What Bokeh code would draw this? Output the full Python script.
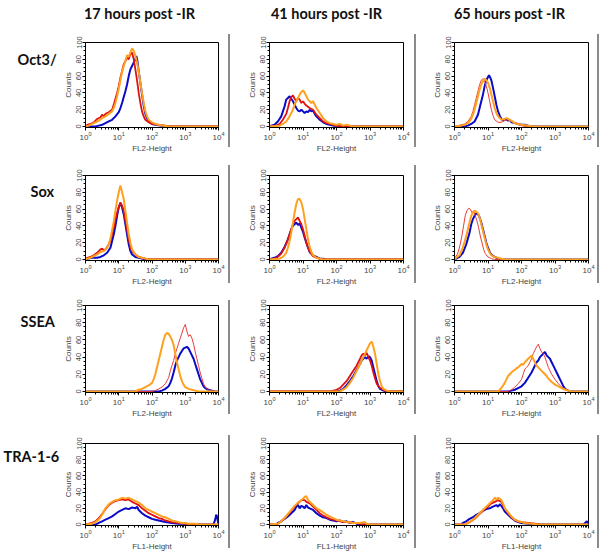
import numpy as np
from bokeh.plotting import figure
from bokeh.models import Range1d, Div, Spacer, SingleIntervalTicker, LogTicker
from bokeh.layouts import row, column
from bokeh.embed import file_html
from bokeh.resources import INLINE
from bokeh.core.properties import value

# ---------------- data (log10 of fluorescence, counts) ----------------
HEADERS = ["17 hours post -IR", "41 hours post -IR", "65 hours post -IR"]
ROW_LABELS = ["Oct3/", "Sox", "SSEA", "TRA-1-6"]
X_LABELS = ["FL2-Height", "FL2-Height", "FL2-Height", "FL1-Height"]

OCT3_17H_BLUE = [(0,0),(0.3,0),(0.4,1),(0.5,2),(0.6,4),(0.7,6),(0.8,8),(0.9,12),(1.0,17),(1.05,22),(1.1,28),(1.15,35),(1.2,42),(1.25,50),(1.3,60),(1.35,68),(1.4,72),(1.45,76),(1.5,80),(1.53,84),(1.56,78),(1.6,66),(1.65,52),(1.7,38),(1.75,25),(1.8,15),(1.85,10),(1.9,6),(2.0,3),(2.1,2),(2.3,1),(2.4,0),(4,0)]
OCT3_17H_RED = [(0,0),(0.05,2),(0.15,3),(0.25,5),(0.35,9),(0.45,11),(0.5,14),(0.55,12),(0.6,15),(0.7,17),(0.8,20),(0.85,26),(0.9,33),(0.95,40),(1.0,48),(1.05,58),(1.1,66),(1.15,74),(1.2,78),(1.25,82),(1.3,80),(1.35,86),(1.4,88),(1.45,80),(1.5,68),(1.55,55),(1.6,40),(1.65,28),(1.7,18),(1.75,12),(1.8,8),(1.9,5),(2.0,3),(2.2,2),(2.4,1),(2.5,0),(4,0)]
OCT3_17H_ORANGE = [(0,0),(0.1,1),(0.2,3),(0.3,5),(0.4,7),(0.5,10),(0.6,12),(0.7,15),(0.8,18),(0.85,22),(0.9,28),(0.95,36),(1.0,45),(1.05,55),(1.1,65),(1.15,72),(1.2,78),(1.25,85),(1.3,83),(1.35,88),(1.4,93),(1.45,90),(1.5,84),(1.55,76),(1.6,66),(1.65,52),(1.7,40),(1.75,28),(1.8,18),(1.85,12),(1.9,8),(2.0,5),(2.1,3),(2.2,2),(2.35,1),(2.5,0),(4,0)]

OCT3_41H_BLUE = [(0,0),(0.05,1),(0.15,2),(0.25,6),(0.35,12),(0.45,24),(0.5,32),(0.55,34),(0.6,36),(0.65,33),(0.7,30),(0.75,26),(0.8,22),(0.85,19),(0.9,18),(0.95,20),(1.0,18),(1.05,16),(1.1,18),(1.15,17),(1.2,20),(1.25,18),(1.3,19),(1.35,15),(1.4,12),(1.5,8),(1.6,5),(1.7,3),(1.8,2),(1.9,1),(2.0,1),(2.1,0),(4,0)]
OCT3_41H_RED = [(0,0),(0.2,1),(0.3,3),(0.4,8),(0.5,15),(0.55,22),(0.6,30),(0.65,35),(0.7,37),(0.75,33),(0.8,30),(0.85,34),(0.9,32),(0.95,28),(1.0,30),(1.05,27),(1.1,25),(1.2,22),(1.3,20),(1.4,14),(1.5,10),(1.6,6),(1.7,4),(1.8,3),(1.9,2),(2.0,1),(2.1,0),(4,0)]
OCT3_41H_ORANGE = [(0,0),(0.3,1),(0.4,3),(0.5,6),(0.6,12),(0.7,20),(0.75,26),(0.8,30),(0.85,34),(0.9,38),(0.95,41),(1.0,43),(1.05,40),(1.1,36),(1.15,32),(1.2,30),(1.25,28),(1.3,30),(1.35,26),(1.4,22),(1.5,16),(1.6,10),(1.7,6),(1.8,4),(1.9,3),(2.0,2),(2.1,3),(2.2,1),(2.3,2),(2.4,1),(2.5,0),(4,0)]

OCT3_65H_BLUE = [(0,0),(0.3,0),(0.4,1),(0.5,3),(0.6,6),(0.7,14),(0.75,22),(0.8,30),(0.85,38),(0.9,48),(0.95,55),(1.0,59),(1.03,61),(1.07,58),(1.1,55),(1.15,46),(1.2,36),(1.25,26),(1.3,18),(1.35,13),(1.4,9),(1.45,7),(1.5,9),(1.55,8),(1.6,7),(1.65,8),(1.7,5),(1.8,4),(1.9,3),(2.0,2),(2.1,2),(2.2,1),(2.3,0),(4,0)]
OCT3_65H_RED = [(0,0),(0.1,1),(0.2,2),(0.3,3),(0.4,6),(0.5,12),(0.55,18),(0.6,26),(0.65,34),(0.7,42),(0.75,50),(0.8,55),(0.85,57),(0.9,54),(0.95,48),(1.0,40),(1.05,30),(1.1,20),(1.15,13),(1.2,8),(1.3,5),(1.4,5),(1.5,7),(1.6,8),(1.7,6),(1.8,4),(1.9,2),(2.0,1),(2.1,0),(4,0)]
OCT3_65H_ORANGE = [(0,0),(0.2,1),(0.3,2),(0.4,4),(0.5,9),(0.55,14),(0.6,20),(0.65,28),(0.7,36),(0.75,44),(0.8,50),(0.85,54),(0.9,57),(0.95,55),(1.0,52),(1.05,46),(1.1,38),(1.15,30),(1.2,22),(1.25,16),(1.3,12),(1.4,8),(1.5,9),(1.55,10),(1.6,9),(1.7,7),(1.8,4),(1.9,3),(2.0,2),(2.2,1),(2.3,0),(4,0)]

SOX_17H_BLUE = [(0,0),(0.05,1),(0.2,2),(0.35,2),(0.45,3),(0.55,5),(0.65,8),(0.75,14),(0.8,22),(0.85,30),(0.9,40),(0.95,52),(1.0,62),(1.05,67),(1.1,62),(1.15,54),(1.2,42),(1.25,30),(1.3,18),(1.35,10),(1.4,6),(1.5,3),(1.6,2),(1.7,1),(1.8,0),(4,0)]
SOX_17H_RED = [(0,0),(0.05,2),(0.15,3),(0.25,5),(0.35,8),(0.45,12),(0.5,13),(0.55,11),(0.6,12),(0.65,15),(0.7,18),(0.75,22),(0.8,30),(0.85,38),(0.9,48),(0.95,56),(1.0,62),(1.05,68),(1.1,64),(1.15,58),(1.2,46),(1.25,36),(1.3,24),(1.35,15),(1.4,10),(1.5,6),(1.6,3),(1.7,2),(1.8,1),(1.9,0),(4,0)]
SOX_17H_ORANGE = [(0,0),(0.05,1),(0.15,2),(0.25,4),(0.35,6),(0.45,9),(0.55,10),(0.65,14),(0.7,18),(0.75,25),(0.8,35),(0.85,45),(0.9,58),(0.95,70),(1.0,80),(1.05,88),(1.1,80),(1.15,72),(1.2,58),(1.25,44),(1.3,30),(1.35,20),(1.4,12),(1.5,6),(1.6,3),(1.7,2),(1.8,1),(1.9,0),(4,0)]

SOX_41H_BLUE = [(0,0),(0.05,1),(0.15,2),(0.25,4),(0.35,8),(0.45,15),(0.55,24),(0.6,30),(0.65,36),(0.7,40),(0.75,42),(0.8,44),(0.85,41),(0.9,43),(0.95,38),(1.0,33),(1.05,26),(1.1,20),(1.15,14),(1.2,9),(1.3,5),(1.4,3),(1.5,1),(1.6,1),(1.7,0),(4,0)]
SOX_41H_RED = [(0,0),(0.15,1),(0.25,3),(0.35,7),(0.45,14),(0.55,24),(0.6,30),(0.65,36),(0.7,42),(0.75,46),(0.8,48),(0.85,50),(0.9,46),(0.95,42),(1.0,36),(1.05,28),(1.1,20),(1.15,14),(1.2,9),(1.3,4),(1.4,2),(1.5,1),(1.6,0),(4,0)]
SOX_41H_ORANGE = [(0,0),(0.3,1),(0.4,3),(0.5,8),(0.55,14),(0.6,22),(0.65,32),(0.7,44),(0.75,56),(0.8,66),(0.85,72),(0.9,72),(0.95,68),(1.0,60),(1.05,48),(1.1,36),(1.15,24),(1.2,15),(1.25,9),(1.3,5),(1.4,2),(1.5,1),(1.6,0),(4,0)]

SOX_65H_BLUE = [(0,0),(0.05,1),(0.15,3),(0.25,8),(0.35,18),(0.45,32),(0.5,42),(0.55,48),(0.6,52),(0.65,55),(0.7,54),(0.75,50),(0.8,44),(0.85,36),(0.9,28),(0.95,20),(1.0,14),(1.05,9),(1.1,6),(1.2,3),(1.3,1),(1.4,0),(4,0)]
SOX_65H_RED = [(0,0),(0.03,3),(0.08,6),(0.12,10),(0.17,18),(0.22,28),(0.27,40),(0.32,52),(0.37,58),(0.42,61),(0.47,60),(0.52,56),(0.57,58),(0.62,52),(0.67,46),(0.72,38),(0.77,28),(0.82,20),(0.87,12),(0.92,7),(1.0,3),(1.1,1),(1.2,0),(4,0)]
SOX_65H_ORANGE = [(0,0),(0.05,2),(0.15,5),(0.25,14),(0.35,28),(0.45,44),(0.5,52),(0.55,56),(0.6,58),(0.65,57),(0.7,55),(0.75,50),(0.8,42),(0.85,34),(0.9,26),(0.95,18),(1.0,12),(1.05,8),(1.1,5),(1.2,3),(1.3,2),(1.4,1),(1.5,0),(4,0)]

SSEA_17H_BLUE = [(0,0),(2.2,0),(2.3,1),(2.4,3),(2.5,6),(2.55,10),(2.6,15),(2.65,22),(2.7,30),(2.75,36),(2.8,40),(2.85,44),(2.9,47),(2.95,50),(3.0,51),(3.05,52),(3.1,50),(3.15,46),(3.2,42),(3.25,38),(3.3,32),(3.35,26),(3.4,20),(3.45,14),(3.5,10),(3.55,6),(3.6,4),(3.7,2),(3.8,1),(3.9,0),(4,0)]
SSEA_17H_RED = [(0,0),(2.0,0),(2.1,1),(2.2,3),(2.3,5),(2.4,9),(2.5,16),(2.55,24),(2.6,30),(2.65,36),(2.7,44),(2.75,50),(2.8,56),(2.85,62),(2.9,68),(2.95,74),(3.0,78),(3.05,70),(3.1,64),(3.15,66),(3.2,62),(3.25,55),(3.3,46),(3.35,38),(3.4,30),(3.45,22),(3.5,15),(3.55,9),(3.6,5),(3.7,2),(3.8,0),(4,0)]
SSEA_17H_ORANGE = [(0,0),(1.5,0),(1.6,2),(1.7,3),(1.8,5),(1.9,7),(2.0,10),(2.05,14),(2.1,20),(2.15,28),(2.2,36),(2.25,44),(2.3,52),(2.35,60),(2.4,66),(2.45,68),(2.5,67),(2.55,64),(2.6,60),(2.65,54),(2.7,44),(2.75,34),(2.8,26),(2.85,18),(2.9,12),(2.95,8),(3.0,5),(3.1,3),(3.2,2),(3.3,1),(3.4,0),(4,0)]

SSEA_41H_BLUE = [(0,0),(2.0,0),(2.1,1),(2.2,3),(2.3,7),(2.4,12),(2.5,18),(2.6,25),(2.7,32),(2.75,36),(2.8,38),(2.85,40),(2.9,38),(2.95,41),(3.0,40),(3.05,36),(3.1,28),(3.15,20),(3.2,12),(3.25,6),(3.3,3),(3.4,1),(3.5,0),(4,0)]
SSEA_41H_RED = [(0,0),(1.85,0),(1.9,1),(2.0,2),(2.1,4),(2.2,8),(2.3,12),(2.4,18),(2.5,24),(2.6,30),(2.7,38),(2.75,42),(2.8,44),(2.85,42),(2.9,45),(2.95,40),(3.0,36),(3.05,30),(3.1,22),(3.15,15),(3.2,9),(3.3,4),(3.4,2),(3.5,0),(4,0)]
SSEA_41H_ORANGE = [(0,0),(2.1,0),(2.2,2),(2.3,5),(2.4,10),(2.5,16),(2.6,24),(2.7,32),(2.8,40),(2.85,44),(2.9,48),(2.95,52),(3.0,56),(3.05,58),(3.1,52),(3.15,44),(3.2,32),(3.25,20),(3.3,12),(3.35,6),(3.4,3),(3.5,1),(3.6,0),(4,0)]

SSEA_65H_BLUE = [(0,0),(1.6,0),(1.7,1),(1.8,2),(1.9,4),(2.0,6),(2.1,10),(2.2,16),(2.3,22),(2.35,26),(2.4,30),(2.45,34),(2.5,36),(2.55,40),(2.6,42),(2.65,44),(2.7,46),(2.75,42),(2.8,40),(2.85,38),(2.9,34),(2.95,30),(3.0,26),(3.05,22),(3.1,18),(3.15,14),(3.2,10),(3.25,6),(3.3,3),(3.4,1),(3.5,0),(4,0)]
SSEA_65H_RED = [(0,0),(1.6,0),(1.7,2),(1.8,5),(1.9,9),(2.0,14),(2.05,20),(2.1,26),(2.15,28),(2.2,30),(2.25,34),(2.3,38),(2.35,44),(2.4,48),(2.45,52),(2.5,55),(2.55,50),(2.6,46),(2.65,44),(2.7,40),(2.75,34),(2.8,28),(2.9,20),(3.0,14),(3.1,9),(3.2,5),(3.3,3),(3.4,1),(3.5,0),(4,0)]
SSEA_65H_ORANGE = [(0,0),(1.3,0),(1.35,2),(1.4,4),(1.45,7),(1.5,10),(1.55,14),(1.6,18),(1.65,20),(1.7,22),(1.75,24),(1.8,25),(1.85,27),(1.9,28),(1.95,30),(2.0,32),(2.05,31),(2.1,34),(2.15,36),(2.2,38),(2.25,40),(2.3,42),(2.35,38),(2.4,34),(2.45,30),(2.5,28),(2.55,26),(2.6,24),(2.65,22),(2.7,20),(2.75,18),(2.8,15),(2.85,13),(2.9,11),(3.0,8),(3.1,6),(3.2,4),(3.3,2),(3.4,1),(3.5,0),(4,0)]

TRA_17H_BLUE = [(0,0),(0.3,0),(0.4,2),(0.5,4),(0.6,6),(0.7,8),(0.8,10),(0.9,13),(1.0,16),(1.1,18),(1.2,20),(1.3,19),(1.4,21),(1.5,20),(1.55,22),(1.6,18),(1.7,14),(1.8,11),(1.9,9),(2.0,7),(2.1,6),(2.2,5),(2.3,4),(2.4,3),(2.6,2),(2.8,1),(3.0,1),(3.2,0),(3.85,0),(3.9,6),(3.93,12),(3.96,10),(3.98,4),(4,0)]
TRA_17H_RED = [(0,0),(0.1,1),(0.2,2),(0.3,4),(0.4,8),(0.5,13),(0.6,19),(0.7,24),(0.8,27),(0.9,29),(1.0,30),(1.1,31),(1.2,30),(1.3,31),(1.4,28),(1.5,26),(1.6,24),(1.7,20),(1.8,17),(1.9,14),(2.0,12),(2.1,10),(2.2,8),(2.3,7),(2.4,5),(2.5,4),(2.6,3),(2.8,2),(3.0,1),(3.2,0),(4,0)]
TRA_17H_ORANGE = [(0,0),(0.2,1),(0.3,3),(0.4,6),(0.5,12),(0.6,20),(0.7,25),(0.8,28),(0.9,30),(1.0,31),(1.1,33),(1.2,32),(1.3,33),(1.35,32),(1.4,31),(1.5,29),(1.6,27),(1.7,24),(1.8,20),(1.9,18),(2.0,16),(2.1,14),(2.2,12),(2.3,10),(2.4,9),(2.5,7),(2.6,5),(2.7,4),(2.8,3),(2.9,2),(3.0,2),(3.1,1),(3.3,1),(3.4,0),(4,0)]

TRA_41H_BLUE = [(0,0),(0.2,0),(0.25,2),(0.35,4),(0.45,7),(0.55,10),(0.65,14),(0.75,18),(0.8,22),(0.85,24),(0.9,20),(0.95,23),(1.0,22),(1.05,20),(1.1,24),(1.15,21),(1.2,20),(1.3,18),(1.4,14),(1.5,11),(1.6,9),(1.7,8),(1.8,6),(1.9,5),(2.0,4),(2.1,5),(2.2,3),(2.3,4),(2.4,2),(2.5,3),(2.6,1),(2.7,0),(4,0)]
TRA_41H_RED = [(0,0),(0.25,1),(0.35,4),(0.45,8),(0.55,12),(0.65,17),(0.75,22),(0.85,26),(0.95,30),(1.05,30),(1.1,28),(1.2,26),(1.3,22),(1.4,18),(1.5,14),(1.6,11),(1.7,9),(1.8,7),(1.9,6),(2.0,5),(2.1,4),(2.3,3),(2.5,2),(2.7,1),(2.8,0),(4,0)]
TRA_41H_ORANGE = [(0,0),(0.25,1),(0.35,4),(0.45,8),(0.55,13),(0.65,18),(0.75,23),(0.85,27),(0.95,30),(1.0,32),(1.05,34),(1.1,35),(1.15,30),(1.2,28),(1.3,24),(1.4,20),(1.5,18),(1.6,15),(1.7,12),(1.8,10),(1.9,8),(2.0,6),(2.1,5),(2.2,4),(2.3,3),(2.5,2),(2.7,2),(2.85,3),(2.9,1),(3.0,0),(4,0)]

TRA_65H_BLUE = [(0,0),(0.2,0),(0.25,2),(0.35,4),(0.45,7),(0.55,9),(0.65,12),(0.75,14),(0.85,17),(0.95,19),(1.05,20),(1.15,22),(1.25,24),(1.3,22),(1.35,25),(1.4,23),(1.45,20),(1.5,16),(1.6,12),(1.7,8),(1.8,5),(1.9,3),(2.0,2),(2.2,1),(2.4,0),(3.85,0),(3.9,2),(3.95,4),(4,0)]
TRA_65H_RED = [(0,0),(0.3,0),(0.4,2),(0.5,4),(0.6,7),(0.7,11),(0.8,15),(0.9,19),(1.0,22),(1.1,26),(1.2,28),(1.3,30),(1.4,28),(1.5,20),(1.6,14),(1.7,9),(1.8,6),(1.9,4),(2.0,3),(2.2,2),(2.4,1),(2.6,0),(4,0)]
TRA_65H_ORANGE = [(0,0),(0.3,0),(0.35,1),(0.45,3),(0.55,6),(0.65,10),(0.75,14),(0.85,18),(0.95,22),(1.05,26),(1.15,30),(1.2,33),(1.25,31),(1.3,33),(1.35,32),(1.4,30),(1.45,26),(1.5,20),(1.6,15),(1.7,10),(1.8,6),(1.9,4),(2.0,3),(2.1,2),(2.3,1),(2.5,0),(4,0)]

PANELS = [
    [(OCT3_17H_BLUE, OCT3_17H_RED, OCT3_17H_ORANGE), (OCT3_41H_BLUE, OCT3_41H_RED, OCT3_41H_ORANGE), (OCT3_65H_BLUE, OCT3_65H_RED, OCT3_65H_ORANGE)],
    [(SOX_17H_BLUE, SOX_17H_RED, SOX_17H_ORANGE), (SOX_41H_BLUE, SOX_41H_RED, SOX_41H_ORANGE), (SOX_65H_BLUE, SOX_65H_RED, SOX_65H_ORANGE)],
    [(SSEA_17H_BLUE, SSEA_17H_RED, SSEA_17H_ORANGE), (SSEA_41H_BLUE, SSEA_41H_RED, SSEA_41H_ORANGE), (SSEA_65H_BLUE, SSEA_65H_RED, SSEA_65H_ORANGE)],
    [(TRA_17H_BLUE, TRA_17H_RED, TRA_17H_ORANGE), (TRA_41H_BLUE, TRA_41H_RED, TRA_41H_ORANGE), (TRA_65H_BLUE, TRA_65H_RED, TRA_65H_ORANGE)],
]
THIN_RED = {(0, 2), (1, 2), (2, 0), (2, 2)}

# ---------------- styling / layout ----------------
BLUE = "#0a0ac8"
RED = "#e01010"
RED_THIN = "#e83c3c"
ORANGE = "#ffa01e"
SEP = "#8a8a8a"
FONT = "Liberation Sans"
TFONT = "Lato"

TOTAL_W = 599
HEADER_H = 34
# (figure height, top border, bottom border) per row
ROWS = [(131, 8, 38), (132, 10, 37), (138, 8, 43), (118, 8, 25)]
# (figure width, left border, right border) per column
COLS = [(168, 24, 10), (184, 39, 11), (181, 38, 9)]
LABEL_W = 60
HEADER_X = [139, 326, 509]
LABEL_X = [17, 30, 20, 3]
LABEL_DY = [18, 15, 17, 10]
# separator segments per row: (gap before, length)
SEG = [(0, 113), (0, 118), (3, 114), (0, 113)]


def header_fig():
    p = figure(width=TOTAL_W, height=HEADER_H, x_range=Range1d(0, TOTAL_W),
               y_range=Range1d(HEADER_H, 0), x_axis_type=None, y_axis_type=None,
               toolbar_location=None, output_backend="svg", min_border=0,
               outline_line_color=None)
    p.grid.visible = False
    p.text(x=HEADER_X, y=[13, 13, 13], text=HEADERS, text_font=value(TFONT),
           text_font_style="bold", text_font_size="14.5px", text_align="center",
           text_baseline="middle", text_color="#111111")
    return p


def label_fig(i, top, h, mt):
    p = figure(width=LABEL_W, height=h, x_range=Range1d(0, LABEL_W),
               y_range=Range1d(top + h, top), x_axis_type=None, y_axis_type=None,
               toolbar_location=None, output_backend="svg", min_border=0,
               outline_line_color=None)
    p.grid.visible = False
    p.text(x=[LABEL_X[i]], y=[top + mt + LABEL_DY[i]], text=[ROW_LABELS[i]],
           text_font=value(TFONT), text_font_style="bold", text_font_size="14.5px",
           text_align="left", text_baseline="middle", text_color="#111111")
    return p


def panel_fig(ri, ci, h, mt, mb):
    w, ml, mr = COLS[ci]
    p = figure(width=w, height=h, x_axis_type="log", x_range=Range1d(1, 1e4),
               y_range=Range1d(-1.2, 100), toolbar_location=None, output_backend="svg",
               min_border_left=ml, min_border_right=mr, min_border_top=mt,
               min_border_bottom=mb, outline_line_color="black", outline_line_width=1)
    p.grid.visible = False
    p.xaxis.ticker = LogTicker(desired_num_ticks=5, num_minor_ticks=10)
    p.yaxis.ticker = SingleIntervalTicker(interval=20, num_minor_ticks=4)
    for ax in (p.xaxis[0], p.yaxis[0]):
        ax.major_label_text_font = FONT
        ax.axis_label_text_font = FONT
        ax.axis_label_text_font_size = "8px"
        ax.axis_label_text_font_style = "normal"
        ax.major_tick_in = 0
        ax.major_tick_out = 3
        ax.minor_tick_in = 0
        ax.minor_tick_out = 2
        ax.major_label_standoff = 1
        ax.axis_label_standoff = 1
        ax.axis_line_color = "black"
    p.xaxis.major_label_text_font_size = "8px"
    p.yaxis.major_label_text_font_size = "7.5px"
    p.xaxis.axis_label = X_LABELS[ri]
    p.yaxis.axis_label = "Counts"
    p.yaxis.major_label_orientation = "vertical"
    blue, red, orange = PANELS[ri][ci]
    thin = (ri, ci) in THIN_RED
    for data, color, lw in ((blue, BLUE, 2.0), (red, RED_THIN if thin else RED, 1.0 if thin else 1.8),
                            (orange, ORANGE, 2.0)):
        lx = np.array([d[0] for d in data], dtype=float)
        cnt = np.array([d[1] for d in data], dtype=float)
        p.line(10 ** lx, cnt, line_color=color, line_width=lw)
    return p


def sep_col(h, gap, length):
    parts = []
    if gap > 0:
        parts.append(Spacer(width=2, height=gap, margin=0))
    parts.append(Div(text="", width=2, height=length, margin=0,
                     styles={"background-color": SEP}))
    rest = h - gap - length
    if rest > 0:
        parts.append(Spacer(width=2, height=rest, margin=0))
    return column(*parts, spacing=0, margin=0)


rows = [header_fig()]
top = HEADER_H
for ri, (h, mt, mb) in enumerate(ROWS):
    gap, length = SEG[ri]
    items = [label_fig(ri, top, h, mt)]
    for ci in range(3):
        items.append(panel_fig(ri, ci, h, mt, mb))
        items.append(sep_col(h, gap, length))
    rows.append(row(*items, spacing=0, margin=0))
    top += h

layout = column(*rows, spacing=0, margin=0)
open("out.html", "w").write(file_html(layout, INLINE))
